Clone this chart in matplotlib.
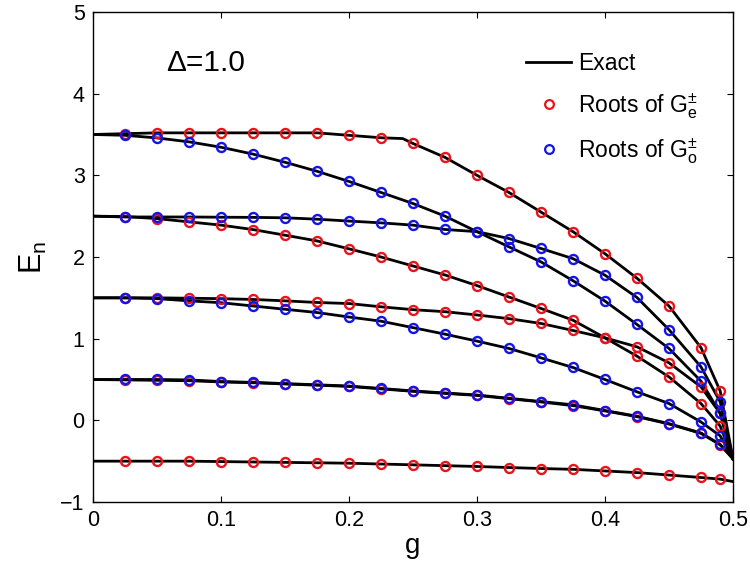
import numpy as np
import matplotlib
matplotlib.use("Agg")
import matplotlib.pyplot as plt
from matplotlib.lines import Line2D

plt.rcParams["font.family"] = ["Liberation Sans", "DejaVu Sans"]
plt.rcParams["mathtext.fontset"] = "custom"
plt.rcParams["mathtext.rm"] = "Liberation Sans"
plt.rcParams["mathtext.it"] = "Liberation Sans:italic"

# coupling strengths (first and last entries only carry the exact curves)
g_vals = [0.0, 0.025, 0.05, 0.075, 0.1, 0.125, 0.15, 0.175, 0.2, 0.225, 0.25,
          0.275, 0.3, 0.325, 0.35, 0.375, 0.4, 0.425, 0.45, 0.475, 0.49, 0.5]

# even-parity levels (roots of G_e)
even_ground = [-0.50, -0.50, -0.50, -0.50, -0.505, -0.51, -0.515, -0.52, -0.525, -0.535, -0.545,
               -0.555, -0.565, -0.578, -0.59, -0.60, -0.62, -0.64, -0.67, -0.70, -0.72, -0.75]
even_05 = [0.50, 0.495, 0.49, 0.485, 0.47, 0.46, 0.445, 0.43, 0.415, 0.385, 0.355,
           0.33, 0.305, 0.265, 0.225, 0.18, 0.115, 0.045, -0.045, -0.16, -0.30, -0.47]
even_15 = [1.50, 1.50, 1.50, 1.495, 1.49, 1.48, 1.463, 1.443, 1.43, 1.39, 1.355,
           1.33, 1.29, 1.245, 1.186, 1.10, 1.01, 0.90, 0.704, 0.41, 0.085, -0.47]
even_25 = [2.50, 2.495, 2.47, 2.43, 2.39, 2.336, 2.267, 2.197, 2.10, 2.0, 1.89,
           1.78, 1.65, 1.51, 1.37, 1.226, 1.01, 0.786, 0.532, 0.206, -0.07, -0.47]
even_35 = [3.50, 3.51, 3.52, 3.52, 3.52, 3.52, 3.52, 3.52, 3.49, 3.46, 3.39,
           3.22, 3.00, 2.79, 2.55, 2.31, 2.04, 1.74, 1.40, 0.89, 0.36, -0.47]
# extra node where the top exact curve bends
even_35_bend_g = 0.242
even_35_bend_E = 3.45

# odd-parity levels (roots of G_o)
odd_05 = [0.50, 0.50, 0.50, 0.495, 0.475, 0.465, 0.45, 0.435, 0.42, 0.39, 0.36,
          0.335, 0.31, 0.27, 0.23, 0.19, 0.12, 0.05, -0.04, -0.155, -0.295, -0.47]
odd_15 = [1.50, 1.50, 1.49, 1.463, 1.44, 1.40, 1.36, 1.32, 1.265, 1.214, 1.135,
          1.055, 0.97, 0.88, 0.765, 0.647, 0.50, 0.349, 0.206, -0.02, -0.19, -0.47]
odd_25 = [2.50, 2.49, 2.49, 2.49, 2.487, 2.485, 2.48, 2.463, 2.44, 2.418, 2.39,
          2.337, 2.31, 2.226, 2.104, 1.98, 1.777, 1.504, 1.11, 0.655, 0.226, -0.47]
odd_35 = [3.50, 3.49, 3.458, 3.41, 3.344, 3.26, 3.16, 3.05, 2.925, 2.79, 2.655,
          2.50, 2.31, 2.124, 1.94, 1.71, 1.46, 1.174, 0.88, 0.48, 0.085, -0.47]

x_ticks = [0, 0.1, 0.2, 0.3, 0.4, 0.5]
x_ticklabels = ["0", "0.1", "0.2", "0.3", "0.4", "0.5"]
y_ticks = [-1, 0, 1, 2, 3, 4, 5]
y_ticklabels = ["\u22121", "0", "1", "2", "3", "4", "5"]

even_levels = [even_ground, even_05, even_15, even_25, even_35]
odd_levels = [odd_05, odd_15, odd_25, odd_35]

fig = plt.figure(figsize=(7.5, 5.68), dpi=100)
ax = fig.add_axes([0.124, 0.1162, 0.8533, 0.8627])

g = np.array(g_vals)
line_kw = dict(color="black", lw=2.0, zorder=2, solid_joinstyle="round")
mk_kw = dict(ls="none", marker="o", ms=6.5, mew=1.7, mfc="none", zorder=3)

# exact curves
for lev in even_levels[:-1] + odd_levels:
    ax.plot(g, lev, **line_kw)
top_g = np.insert(g, 10, even_35_bend_g)
top_E = np.insert(np.array(even_35), 10, even_35_bend_E)
ax.plot(top_g, top_E, **line_kw)

# roots of the G functions
for lev in even_levels:
    ax.plot(g[1:-1], np.array(lev)[1:-1], mec="#e8141c", **mk_kw)
for lev in odd_levels:
    ax.plot(g[1:-1], np.array(lev)[1:-1], mec="#1414e6", **mk_kw)

ax.set_xlim(0, 0.5)
ax.set_ylim(-1, 5)
ax.set_xticks(x_ticks)
ax.set_xticklabels(x_ticklabels)
ax.set_yticks(y_ticks)
ax.set_yticklabels(y_ticklabels)
ax.tick_params(direction="in", top=True, right=True, length=4.5, width=0.8,
               labelsize=15.5, pad=6)
for sp in ax.spines.values():
    sp.set_linewidth(1.0)

ax.set_xlabel("g", fontsize=20, labelpad=1)
ax.set_ylabel(r"$\mathrm{E}_\mathrm{n}$", fontsize=22, labelpad=8)

ax.text(0.057, 4.37, "\u0394=1.0", fontsize=21.5, va="center", ha="left")

handles = [
    Line2D([], [], color="black", lw=2.0),
    Line2D([], [], ls="none", marker="o", ms=6.3, mew=1.6, mfc="none", mec="#e8141c"),
    Line2D([], [], ls="none", marker="o", ms=6.3, mew=1.6, mfc="none", mec="#1414e6"),
]
labels = ["Exact", r"Roots of $\mathrm{G}_\mathrm{e}^{\pm}$", r"Roots of $\mathrm{G}_\mathrm{o}^{\pm}$"]
ax.legend(handles, labels, loc="upper left", bbox_to_anchor=(0.676, 0.918),
          frameon=False, fontsize=16.5, handlelength=2.0, handletextpad=0.3,
          labelspacing=0.68, borderaxespad=0, borderpad=0)

fig.savefig("out.png", dpi=100)
